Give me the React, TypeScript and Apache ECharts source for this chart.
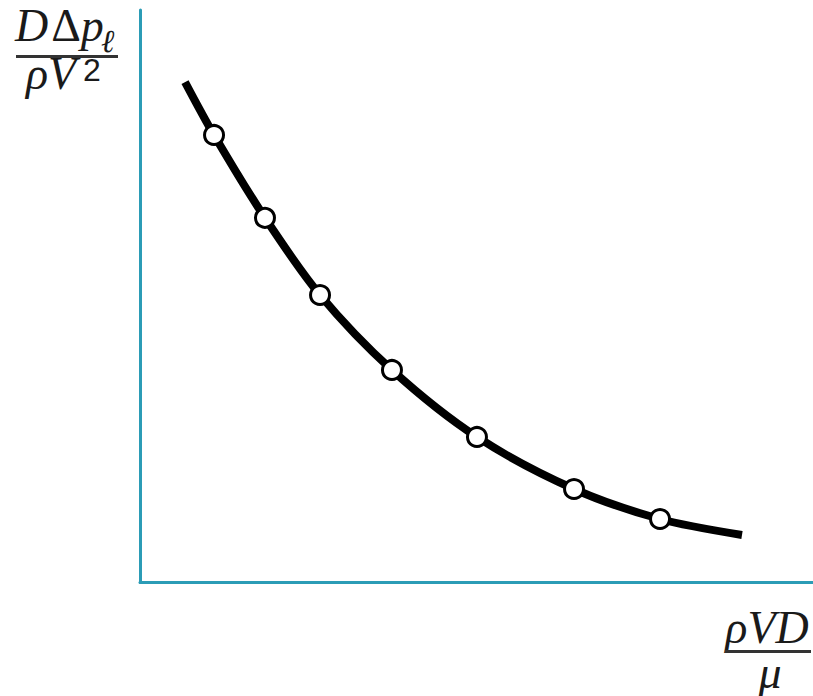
import React, { useEffect, useRef } from "react";
import * as echarts from "echarts";

// Curve, x = dimensionless Reynolds number axis, y = pressure drop group
const curveX = [6.69, 11.0, 18.57, 26.75, 37.44, 50.07, 64.49, 77.27, 89.45];
const curveY = [87.42, 78.17, 63.7, 50.22, 37.12, 25.42, 16.33, 11.09, 8.3];
// Measured points (open circles)
const pointX = [11.0, 18.57, 26.75, 37.44, 50.07, 64.49, 77.27];
const pointY = [78.17, 63.7, 50.22, 37.12, 25.42, 16.33, 11.09];

const AXIS_COLOR = "#2b9cb6";
const TEXT_COLOR = "#1a1a1a";
const SERIF = "'Liberation Serif', 'Times New Roman', 'DejaVu Serif', serif";

export default function App() {
  const ref = useRef<HTMLDivElement>(null);
  useEffect(() => {
    if (!ref.current) return;
    const chart = echarts.init(ref.current, undefined, { renderer: "svg" });
    const txt = (x: number, y: number, text: string, size: number, opts: any = {}) => ({
      type: "text",
      x,
      y,
      style: {
        text,
        fontSize: size,
        fontFamily: opts.family || SERIF,
        fontStyle: opts.italic === false ? "normal" : "italic",
        fill: TEXT_COLOR,
        textAlign: opts.align || "left",
        textVerticalAlign: "bottom",
      },
    });
    chart.setOption({
      animation: false,
      grid: { left: 140, top: 10, right: 0, bottom: 113.5 },
      xAxis: {
        type: "value",
        min: 0,
        max: 100,
        axisLine: { show: true, lineStyle: { color: AXIS_COLOR, width: 3 } },
        axisTick: { show: false },
        axisLabel: { show: false },
        splitLine: { show: false },
      },
      yAxis: {
        type: "value",
        min: 0,
        max: 100,
        axisLine: { show: true, lineStyle: { color: AXIS_COLOR, width: 3 } },
        axisTick: { show: false },
        axisLabel: { show: false },
        splitLine: { show: false },
      },
      series: [
        {
          type: "line",
          data: curveX.map((x, i) => [x, curveY[i]]),
          smooth: 0.3,
          showSymbol: false,
          symbol: "none",
          lineStyle: { color: "#000", width: 8 },
        },
        {
          type: "scatter",
          data: pointX.map((x, i) => [x, pointY[i]]),
          symbol: "circle",
          symbolSize: 19,
          itemStyle: { color: "#fff", borderColor: "#000", borderWidth: 3, opacity: 1 },
          z: 5,
        },
      ],
      graphic: [
        // numerator D Δ p_ℓ
        {
          type: "text",
          x: 15,
          y: 48,
          style: {
            text: "{i|D}{u|Δ}{i|p}",
            textVerticalAlign: "bottom",
            fill: TEXT_COLOR,
            rich: {
              i: { fontSize: 46, fontFamily: SERIF, fontStyle: "italic", fill: TEXT_COLOR },
              u: { fontSize: 46, fontFamily: SERIF, fontStyle: "normal", fill: TEXT_COLOR, padding: [0, 0, 0, 3] },
            },
          },
        },
        txt(101, 57, "ℓ", 32),
        { type: "rect", shape: { x: 16, y: 55, width: 102, height: 3 }, style: { fill: "#333" } },
        // denominator ρ V^2
        txt(26, 96, "ρV", 46),
        txt(83, 86, "2", 32, { italic: false, family: "'Liberation Sans', Arial, sans-serif" }),
        // x label ρVD / μ
        txt(767, 650, "ρVD", 46, { align: "center" }),
        { type: "rect", shape: { x: 725, y: 650, width: 86, height: 3 }, style: { fill: "#333" } },
        txt(770, 695, "μ", 46, { align: "center" }),
      ],
    });
    return () => chart.dispose();
  }, []);
  return (
    <div
      ref={ref}
      style={{ position: "absolute", left: 0, top: 0, width: 813, height: 696 }}
    />
  );
}
